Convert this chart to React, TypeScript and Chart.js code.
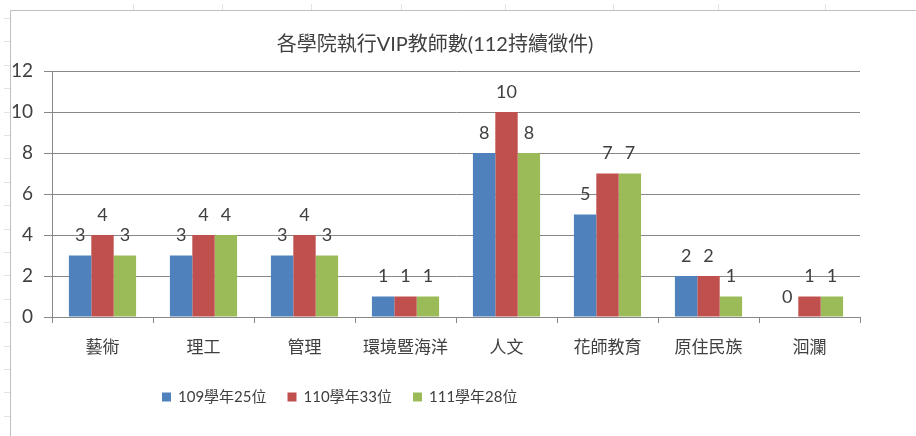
import React, { useEffect, useRef } from "react";
import { Chart, registerables } from "chart.js";

Chart.register(...registerables);

const TITLE = "各學院執行VIP教師數(112持續徵件)";
const CATEGORIES = ["藝術", "理工", "管理", "環境暨海洋", "人文", "花師教育", "原住民族", "洄瀾"];
const SERIES_LABELS = ["109學年25位", "110學年33位", "111學年28位"];
const SERIES_109 = [3, 3, 3, 1, 8, 5, 2, 0];
const SERIES_110 = [4, 4, 4, 1, 10, 7, 2, 1];
const SERIES_111 = [3, 4, 3, 1, 8, 7, 1, 1];
const COLORS = ["#4F81BD", "#C0504D", "#9BBB59"];
const Y_MAX = 12;
const Y_STEP = 2;

const FONT = 'Lato, "Noto Sans CJK TC", sans-serif';
const TEXT = "#404040";
const GRID = "#878787";

const decorPlugin = {
  id: "decor",
  beforeDraw(chart: any) {
    const ctx = chart.ctx;
    ctx.save();
    ctx.fillStyle = "#ffffff";
    ctx.fillRect(0, 0, chart.width, chart.height);
    // faint spreadsheet row / column ticks
    ctx.strokeStyle = "#e4e4e4";
    ctx.lineWidth = 1;
    [133, 222, 311, 401, 505, 613, 718, 825].forEach((x) => {
      ctx.beginPath();
      ctx.moveTo(x + 0.5, 4);
      ctx.lineTo(x + 0.5, 10);
      ctx.stroke();
    });
    for (let y = 18; y < chart.height; y += 23.4) {
      ctx.beginPath();
      ctx.moveTo(4, Math.round(y) + 0.5);
      ctx.lineTo(10, Math.round(y) + 0.5);
      ctx.stroke();
    }
    // chart frame
    ctx.strokeStyle = "#bfbfbf";
    ctx.beginPath();
    ctx.moveTo(10.5, chart.height);
    ctx.lineTo(10.5, 10.5);
    ctx.lineTo(chart.width, 10.5);
    ctx.stroke();
    ctx.restore();
  },
  afterDraw(chart: any) {
    const ctx = chart.ctx;
    ctx.save();
    // title
    ctx.fillStyle = TEXT;
    ctx.font = `20px ${FONT}`;
    ctx.textAlign = "center";
    ctx.textBaseline = "middle";
    ctx.fillText(TITLE, 435, 45);
    // data labels
    ctx.font = `18px ${FONT}`;
    chart.data.datasets.forEach((ds: any, i: number) => {
      const meta = chart.getDatasetMeta(i);
      meta.data.forEach((bar: any, j: number) => {
        ctx.fillText(String(ds.data[j]), bar.x, bar.y - 20);
      });
    });
    // legend
    ctx.font = `15px ${FONT}`;
    ctx.textAlign = "left";
    let x = 162;
    const yc = 397;
    chart.data.datasets.forEach((ds: any) => {
      ctx.fillStyle = ds.backgroundColor;
      ctx.fillRect(x, yc - 4.5, 9, 9);
      ctx.fillStyle = TEXT;
      ctx.fillText(ds.label, x + 16, yc);
      x += 16 + ctx.measureText(ds.label).width + 21;
    });
    ctx.restore();
  },
};

export default function App() {
  const ref = useRef<HTMLCanvasElement | null>(null);

  useEffect(() => {
    if (!ref.current) return;
    const seriesValues = [SERIES_109, SERIES_110, SERIES_111];
    const chart = new Chart(ref.current, {
      type: "bar",
      data: {
        labels: CATEGORIES,
        datasets: seriesValues.map((vals, i) => ({
          label: SERIES_LABELS[i],
          data: vals,
          backgroundColor: COLORS[i],
          borderWidth: 0,
          categoryPercentage: 0.665,
          barPercentage: 1.0,
        })),
      },
      options: {
        animation: false,
        responsive: false,
        layout: { padding: { top: 71, right: 56, bottom: 69, left: 0 } },
        plugins: {
          legend: { display: false },
          title: { display: false },
          tooltip: { enabled: false },
        },
        scales: {
          x: {
            grid: {
              offset: true,
              drawOnChartArea: false,
              drawTicks: true,
              tickLength: 6,
              color: GRID,
            },
            border: { color: GRID },
            ticks: {
              color: TEXT,
              font: { family: FONT, size: 17 },
              padding: 14,
              maxRotation: 0,
              autoSkip: false,
            },
            afterFit(scale: any) {
              scale.height = 50;
            },
          },
          y: {
            min: 0,
            max: Y_MAX,
            ticks: {
              stepSize: Y_STEP,
              color: TEXT,
              font: { family: FONT, size: 19 },
              padding: 11,
            },
            grid: { color: GRID, tickLength: 8 },
            border: { color: GRID },
            afterFit(scale: any) {
              scale.width = 52;
            },
          },
        },
      },
      plugins: [decorPlugin],
    });
    return () => chart.destroy();
  }, []);

  return (
    <div style={{ position: "absolute", left: 0, top: 0, width: 916, height: 436, background: "#fff" }}>
      <canvas ref={ref} width={916} height={436} style={{ display: "block" }} />
    </div>
  );
}
